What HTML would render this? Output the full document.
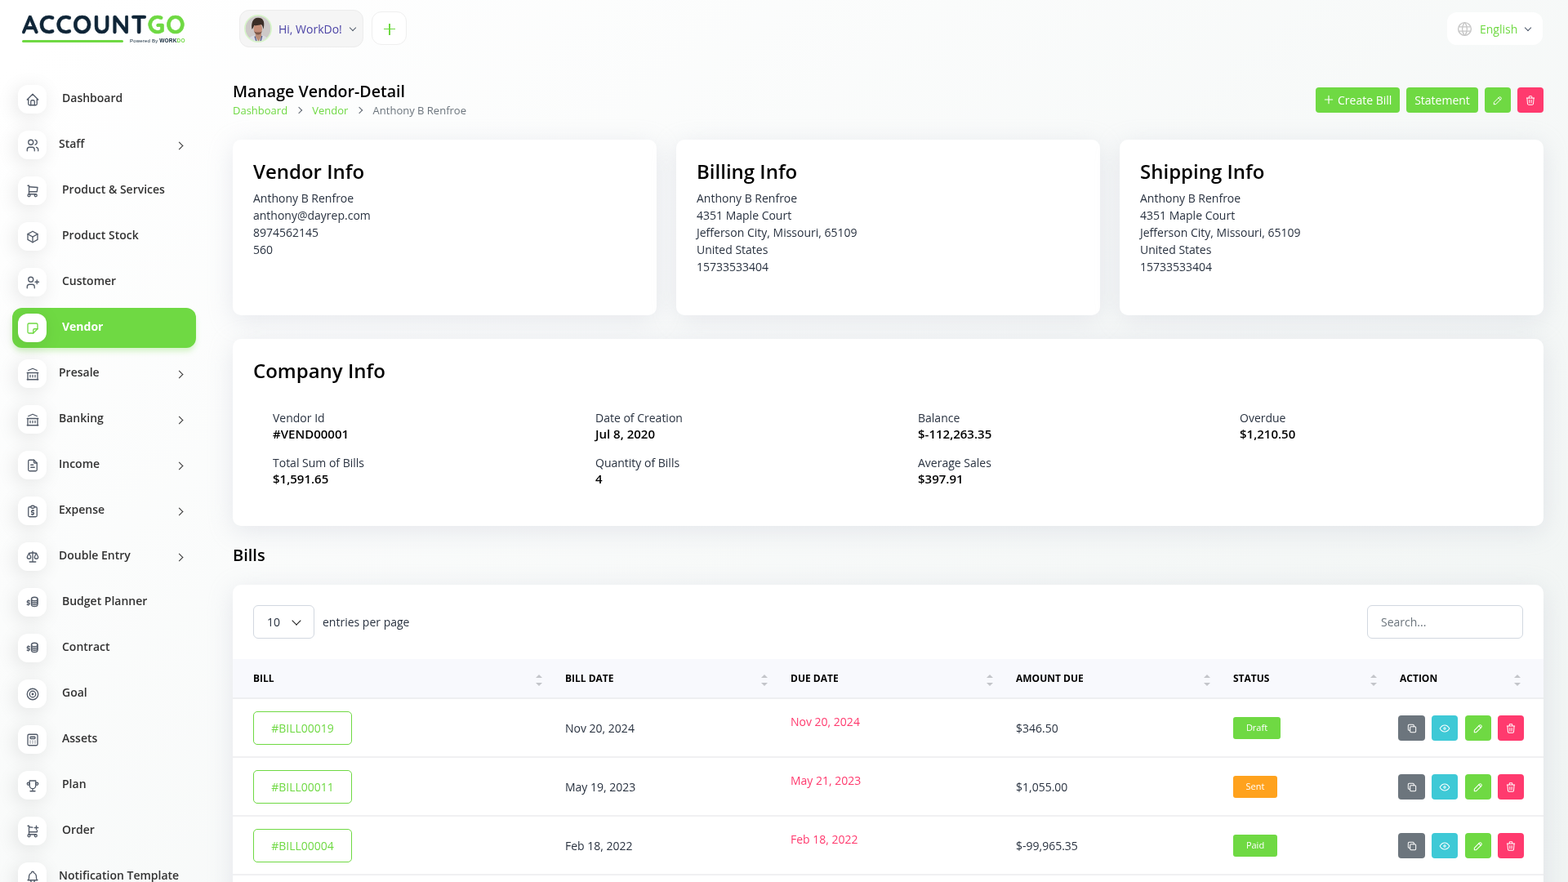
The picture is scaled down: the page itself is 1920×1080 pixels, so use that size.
<!DOCTYPE html>
<html lang="en">
<head>
<meta charset="utf-8">
<title>Manage Vendor-Detail</title>
<style>
*{box-sizing:border-box;margin:0;padding:0}
html,body{width:1920px;height:1080px;overflow:hidden}
body{font-family:"Open Sans","Liberation Sans",sans-serif;font-size:14px;color:#293240;
background:linear-gradient(141.55deg,rgba(240,244,243,0) 3.46%,#f0f4f3 99.86%),#fff;position:relative}
.abs{position:absolute}
/* sidebar */
.logo{left:27px;top:14px;width:200px;height:42px}
.logo .name{position:absolute;left:0;top:-1px;font-family:"Quicksand","Liberation Sans",sans-serif;font-weight:700;font-size:30.7px;letter-spacing:1.35px;color:#0f2537;line-height:34px;-webkit-text-stroke:.6px #0f2537;white-space:nowrap}
.logo .name b{color:#6fd943;font-weight:700;-webkit-text-stroke:.6px #6fd943}
.logo .bar{position:absolute;left:0;top:35px;width:124px;height:3px;border-radius:2px;background:#6fd943}
.logo .pw{position:absolute;left:132px;top:32px;font-size:6px;font-weight:400;color:#0f2537;letter-spacing:.2px;font-family:"Liberation Sans",sans-serif;white-space:nowrap;line-height:8px}
.logo .pw i{font-style:normal;font-weight:900;font-size:6.5px}.logo .pw b{color:#6fd943}
.nav{left:0;top:0}
.item{position:absolute;left:15px;width:225px;height:49px;border-radius:12px}
.item .ic{position:absolute;left:7px;top:7px;width:35px;height:35px;border-radius:12px;background:#fff;box-shadow:-3px 4px 23px rgba(0,0,0,.1);display:flex;align-items:center;justify-content:center}
.item .ic svg{width:18px;height:18px;stroke:#525b69;fill:none;stroke-width:1.75;stroke-linecap:round;stroke-linejoin:round}
.item .tx{position:absolute;left:61px;top:13px;font-size:14px;font-weight:600;color:#333;line-height:19px;white-space:nowrap}
.item.sub .tx{left:57px}
.item .ar{position:absolute;left:201.3px;top:22.3px;width:7px;height:7px;border-right:1.9px solid #333;border-top:1.9px solid #333;transform:rotate(45deg)}
.item.active{background:#6fd943;box-shadow:0 5px 7px -1px rgba(111,217,67,.3)}
.item.active .tx{color:#fff;font-weight:700}
.item.active .ic svg{stroke:#6fd943}
/* header */
.user{left:293px;top:12px;width:152px;height:46px;border-radius:12px;background:#f5f5f5;border:1px solid #ececec}
.user .av{position:absolute;left:5px;top:5px;width:34px;height:34px}
.user .nm{position:absolute;left:47px;top:13px;font-size:14px;color:#4c44a6;font-weight:400;line-height:19px}
.user .chev{position:absolute;left:135px;top:17.5px;width:6px;height:6px;border-right:1.4px solid #555f6d;border-bottom:1.4px solid #555f6d;transform:rotate(45deg)}
.plus{left:455px;top:14px;width:43px;height:41px;border-radius:12px;background:#fff;border:1px solid #efefef}
.plus:before,.plus:after{content:"";position:absolute;background:#6fd943}
.plus:before{left:14px;top:19.5px;width:14px;height:1.6px}
.plus:after{left:20.2px;top:13.5px;width:1.6px;height:14px}
.lang{left:1772px;top:15px;width:117px;height:40px;border-radius:12px;background:#fff}
.lang .gl{position:absolute;left:11px;top:10px;width:21px;height:21px}
.lang .t{position:absolute;left:40px;top:11px;font-size:14px;color:#6fd943;line-height:20px}
.lang .chev{position:absolute;left:96px;top:16px;width:6px;height:6px;border-right:1.4px solid #4a5568;border-bottom:1.4px solid #4a5568;transform:rotate(45deg)}
/* page header */
.ptitle{left:285px;top:98px;font-size:19.6px;font-weight:600;color:#000;line-height:27px;white-space:nowrap}
.bc{left:285px;top:126px;font-size:13px;line-height:18px;white-space:nowrap;color:#6c757d}
.bc a{color:#6fd943;text-decoration:none}
.bc .sep{display:inline-block;width:30.2px;height:10px;position:relative;vertical-align:baseline}.bc .sep:after{content:"";position:absolute;left:10.5px;top:1.5px;width:5px;height:5px;border-right:1.3px solid #5f6670;border-top:1.3px solid #5f6670;transform:rotate(45deg)}
.bi{position:absolute;left:9px;top:8.5px;width:14px;height:14px;fill:none;stroke:#fff;stroke-width:1.7;stroke-linecap:round;stroke-linejoin:round}.bp{position:absolute;left:8.4px;top:7.4px;width:16px;height:16px;fill:none;stroke:#fff;stroke-width:1.7;stroke-linecap:round}
.btn{position:absolute;top:107px;height:31px;border-radius:4px;background:#6fd943;color:#fff;font-size:14px;line-height:31px;text-align:center;white-space:nowrap}
/* cards */
.card{position:absolute;background:#fff;border-radius:10px;box-shadow:0 6px 30px rgba(182,186,203,.3)}
.card h3{position:absolute;left:25px;top:22px;font-size:24px;font-weight:600;color:#000;line-height:33px;white-space:nowrap}
.card .lines{position:absolute;left:25px;top:61px;font-size:14px;line-height:21px;color:#293240;white-space:nowrap}
.ci{position:absolute;font-size:14px;line-height:19px;white-space:nowrap}
.ci .l{color:#293240}
.ci .v{font-weight:600;color:#000;font-size:15px;line-height:20px;margin-top:0}
/* table */
.sel{position:absolute;left:25px;top:25px;width:75px;height:41px;border:1px solid #d2d8e0;border-radius:6px}
.sel .t{position:absolute;left:16px;top:10px;font-size:14px;line-height:19px}
.sel .chev{position:absolute;left:47.5px;top:13.5px;width:8px;height:8px;border-right:1.7px solid #1a1a1a;border-bottom:1.7px solid #1a1a1a;transform:rotate(45deg)}
.epp{position:absolute;left:110px;top:36px;font-size:14px;line-height:19px}
.search{position:absolute;left:1389px;top:25px;width:191px;height:41px;border:1px solid #d2d8e0;border-radius:6px}
.search .t{position:absolute;left:16px;top:10px;font-size:14px;line-height:19px;color:#6c757d}
.thead{position:absolute;left:0;top:91px;width:1605px;height:49px;background:#f8f9fd;border-bottom:2px solid #eeeff1}
.th{position:absolute;top:15px;font-size:12px;font-weight:700;color:#000;line-height:17px}
.sort{position:absolute;top:19px;width:8px;height:14px}
.sort:before,.sort:after{content:"";position:absolute;left:1px;border-left:4px solid transparent;border-right:4px solid transparent}
.sort:before{top:0;border-bottom:4.2px solid #c3c5ca}
.sort:after{top:10px;border-top:4.2px solid #c3c5ca}
.row{position:absolute;left:0;width:1605px;height:72px;border-bottom:2px solid #f0f0f2}
.billbtn{position:absolute;left:25px;top:15px;width:121px;height:41px;border:1px solid #6fd943;border-radius:5px;color:#6fd943;font-size:14px;line-height:39px;text-align:center}
.td{position:absolute;font-size:14px;line-height:19px;white-space:nowrap;color:#293240}
.due{color:#ff3a6e}
.badge{position:absolute;left:1225px;top:22px;height:27px;border-radius:3px;color:#fff;font-size:11px;line-height:26px;text-align:center;font-weight:500}
.ab{position:absolute;top:20px;width:32px;height:31px;border-radius:4px;display:flex;align-items:center;justify-content:center}
.ab svg{width:14px;height:14px;stroke:#fff;fill:none;stroke-width:1.75;stroke-linecap:round;stroke-linejoin:round}
</style>
</head>
<body>
<!-- logo -->
<div class="abs logo"><div class="name">ACCOUNT<b>GO</b></div><div class="bar"></div><div class="pw">Powered By <i>WORK<b>DO</b></i></div></div>

<!-- sidebar nav -->
<div class="abs nav">
  <div class="item" style="top:97px"><div class="ic"><svg viewBox="0 0 24 24"><path d="M5 12H3l9-9 9 9h-2"/><path d="M5 12v7a2 2 0 0 0 2 2h10a2 2 0 0 0 2-2v-7"/><path d="M9 21v-6a2 2 0 0 1 2-2h2a2 2 0 0 1 2 2v6"/></svg></div><div class="tx">Dashboard</div></div>
  <div class="item sub" style="top:153px"><div class="ic"><svg viewBox="0 0 24 24"><circle cx="9" cy="7" r="4"/><path d="M3 21v-2a4 4 0 0 1 4-4h4a4 4 0 0 1 4 4v2"/><path d="M16 3.13a4 4 0 0 1 0 7.75"/><path d="M21 21v-2a4 4 0 0 0-3-3.85"/></svg></div><div class="tx">Staff</div><div class="ar"></div></div>
  <div class="item" style="top:209px"><div class="ic"><svg viewBox="0 0 24 24"><circle cx="6" cy="19" r="2"/><circle cx="17" cy="19" r="2"/><path d="M17 17H6V3H4"/><path d="M6 5l14 1-1 7H6"/></svg></div><div class="tx">Product &amp; Services</div></div>
  <div class="item" style="top:265px"><div class="ic"><svg viewBox="0 0 24 24"><path d="M12 3l8 4.5v9L12 21l-8-4.5v-9L12 3"/><path d="M12 12l8-4.5"/><path d="M12 12v9"/><path d="M12 12L4 7.5"/></svg></div><div class="tx">Product Stock</div></div>
  <div class="item" style="top:321px"><div class="ic"><svg viewBox="0 0 24 24"><circle cx="9" cy="7" r="4"/><path d="M3 21v-2a4 4 0 0 1 4-4h4a4 4 0 0 1 4 4v2"/><path d="M16 11h6m-3-3v6"/></svg></div><div class="tx">Customer</div></div>
  <div class="item active" style="top:377px"><div class="ic"><svg viewBox="0 0 24 24"><path d="M13 20H6a2 2 0 0 1-2-2V6a2 2 0 0 1 2-2h12a2 2 0 0 1 2 2v7l-7 7"/><path d="M13 20v-5a2 2 0 0 1 2-2h5"/></svg></div><div class="tx">Vendor</div></div>
  <div class="item sub" style="top:433px"><div class="ic"><svg viewBox="0 0 24 24"><path d="M3 21h18"/><path d="M3 10h18"/><path d="M5 6l7-3 7 3"/><path d="M4 10v11m16-11v11M8 14v3m4-3v3m4-3v3"/></svg></div><div class="tx">Presale</div><div class="ar"></div></div>
  <div class="item sub" style="top:489px"><div class="ic"><svg viewBox="0 0 24 24"><path d="M3 21h18"/><path d="M3 10h18"/><path d="M5 6l7-3 7 3"/><path d="M4 10v11m16-11v11M8 14v3m4-3v3m4-3v3"/></svg></div><div class="tx">Banking</div><div class="ar"></div></div>
  <div class="item sub" style="top:545px"><div class="ic"><svg viewBox="0 0 24 24"><path d="M14 3v4a1 1 0 0 0 1 1h4"/><path d="M17 21H7a2 2 0 0 1-2-2V5a2 2 0 0 1 2-2h7l5 5v11a2 2 0 0 1-2 2z"/><path d="M9 11h4m-4 4h6"/></svg></div><div class="tx">Income</div><div class="ar"></div></div>
  <div class="item sub" style="top:601px"><div class="ic"><svg viewBox="0 0 24 24"><path d="M9 5H7a2 2 0 0 0-2 2v12a2 2 0 0 0 2 2h10a2 2 0 0 0 2-2V7a2 2 0 0 0-2-2h-2"/><rect x="9" y="3" width="6" height="4" rx="2"/><path d="M14 11h-2.5a1.5 1.5 0 0 0 0 3h1a1.5 1.5 0 0 1 0 3H10m2 0v1m0-8v1"/></svg></div><div class="tx">Expense</div><div class="ar"></div></div>
  <div class="item sub" style="top:657px"><div class="ic"><svg viewBox="0 0 24 24"><path d="M7 20h10M6 6l6-1 6 1M12 3v17"/><path d="M9 12l-3-6-3 6a3 3 0 0 0 6 0"/><path d="M21 12l-3-6-3 6a3 3 0 0 0 6 0"/></svg></div><div class="tx">Double Entry</div><div class="ar"></div></div>
  <div class="item" style="top:713px"><div class="ic"><svg viewBox="0 0 24 24"><ellipse cx="15" cy="6" rx="5" ry="3"/><path d="M10 6v3c0 1.66 2.24 3 5 3s5-1.34 5-3V6"/><path d="M10 9v3c0 1.66 2.24 3 5 3s5-1.34 5-3V9"/><path d="M10 12v3c0 1.66 2.24 3 5 3s5-1.34 5-3v-3"/><path d="M7 9H4.5a1.5 1.5 0 0 0 0 3h1a1.5 1.5 0 0 1 0 3H3m2 0v1m0-8v1"/></svg></div><div class="tx">Budget Planner</div></div>
  <div class="item" style="top:769px"><div class="ic"><svg viewBox="0 0 24 24"><ellipse cx="15" cy="6" rx="5" ry="3"/><path d="M10 6v3c0 1.66 2.24 3 5 3s5-1.34 5-3V6"/><path d="M10 9v3c0 1.66 2.24 3 5 3s5-1.34 5-3V9"/><path d="M10 12v3c0 1.66 2.24 3 5 3s5-1.34 5-3v-3"/><path d="M7 9H4.5a1.5 1.5 0 0 0 0 3h1a1.5 1.5 0 0 1 0 3H3m2 0v1m0-8v1"/></svg></div><div class="tx">Contract</div></div>
  <div class="item" style="top:825px"><div class="ic"><svg viewBox="0 0 24 24"><circle cx="12" cy="12" r="1"/><circle cx="12" cy="12" r="5"/><circle cx="12" cy="12" r="9"/></svg></div><div class="tx">Goal</div></div>
  <div class="item" style="top:881px"><div class="ic"><svg viewBox="0 0 24 24"><rect x="4" y="3" width="16" height="18" rx="2"/><rect x="8" y="7" width="8" height="3" rx="1"/><path d="M8 14v.01M12 14v.01M16 14v.01M8 17v.01M12 17v.01M16 17v.01"/></svg></div><div class="tx">Assets</div></div>
  <div class="item" style="top:937px"><div class="ic"><svg viewBox="0 0 24 24"><path d="M8 21h8M12 17v4M7 4h10M17 4v8a5 5 0 0 1-10 0V4"/><circle cx="5" cy="9" r="2"/><circle cx="19" cy="9" r="2"/></svg></div><div class="tx">Plan</div></div>
  <div class="item" style="top:993px"><div class="ic"><svg viewBox="0 0 24 24"><circle cx="6" cy="19" r="2"/><circle cx="17" cy="19" r="2"/><path d="M17 17H6V3H4"/><path d="M6 5l6 .43M19.5 10.5L19 13H6"/><path d="M15 6h6m-3-3v6"/></svg></div><div class="tx">Order</div></div>
  <div class="item sub" style="top:1049px"><div class="ic"><svg viewBox="0 0 24 24"><path d="M10 5a2 2 0 0 1 4 0a7 7 0 0 1 4 6v3a4 4 0 0 0 2 3H4a4 4 0 0 0 2-3v-3a7 7 0 0 1 4-6"/><path d="M9 17v1a3 3 0 0 0 6 0v-1"/></svg></div><div class="tx">Notification Template</div></div>
</div>

<!-- header -->
<div class="abs user"><svg class="av" viewBox="0 0 34 34"><defs><clipPath id="cc"><circle cx="17" cy="17" r="15.8"/></clipPath></defs><g clip-path="url(#cc)"><rect width="34" height="34" fill="#cdc9c8"/><path d="M4 34c1-5 4-8 9.5-9l3.5 1.5 4-1.5c5 1 9 4 10.5 9z" fill="#dadbe2"/><path d="M13.8 21h7l.4 6-3.7 6-3.7-6z" fill="#b98d78"/><path d="M13 26.5l2 6M21.8 26l-1.8 6.5" stroke="#55608c" stroke-width="1.3"/><ellipse cx="16.8" cy="17" rx="5.3" ry="6.8" fill="#c48e78"/><path d="M12 20c1 3 3 4.5 5 4.5s4-1.5 5-4.5c-1 1-2.5 1.5-5 1.5s-4-.5-5-1.5z" fill="#7a5646"/><path d="M9.5 18C8.4 11 10 3.8 17 3.8c6.2 0 8.2 4.6 7 11.4l-.6 2.6c-.6-3.4-1.4-5.2-2.6-5.8-3 .6-5.6 1.8-8.6.9-.5 1.7-1.2 3.4-2.7 5.1z" fill="#3a2d26"/></g><circle cx="17" cy="17" r="16.2" fill="none" stroke="#d6f5c8" stroke-width="1.6"/></svg><div class="nm">Hi, WorkDo!</div><div class="chev"></div></div>
<div class="abs plus"></div>
<div class="abs lang"><svg class="gl" viewBox="0 0 24 24" fill="none" stroke="#c6c6c6" stroke-width="1.6"><circle cx="12" cy="12" r="9"/><path d="M3.6 9h16.8M3.6 15h16.8"/><path d="M11.5 3a17 17 0 0 0 0 18M12.5 3a17 17 0 0 1 0 18"/></svg><div class="t">English</div><div class="chev"></div></div>

<!-- page title -->
<div class="abs ptitle">Manage Vendor-Detail</div>
<div class="abs bc"><a>Dashboard</a><span class="sep"></span><a>Vendor</a><span class="sep"></span>Anthony B Renfroe</div>
<div class="btn" style="left:1611px;width:103px;text-align:left;padding-left:27px"><svg class="bp" viewBox="0 0 24 24"><path d="M12 5v14M5 12h14"/></svg>Create Bill</div>
<div class="btn" style="left:1722px;width:88px">Statement</div>
<div class="btn" style="left:1818px;width:32px"><svg class="bi" viewBox="0 0 24 24"><path d="M4 20h4L18.5 9.5a2.83 2.83 0 0 0-4-4L4 16v4"/><path d="M13.5 6.5l4 4"/></svg></div>
<div class="btn" style="left:1858px;width:32px;background:#ff3a6e"><svg class="bi" viewBox="0 0 24 24"><path d="M4 7h16M10 11v6M14 11v6M5 7l1 12a2 2 0 0 0 2 2h8a2 2 0 0 0 2-2l1-12M9 7V4a1 1 0 0 1 1-1h4a1 1 0 0 1 1 1v3"/></svg></div>

<!-- info cards -->
<div class="card" style="left:285px;top:171px;width:519px;height:215px"><h3>Vendor Info</h3><div class="lines">Anthony B Renfroe<br>anthony@dayrep.com<br>8974562145<br>560</div></div>
<div class="card" style="left:828px;top:171px;width:519px;height:215px"><h3>Billing Info</h3><div class="lines">Anthony B Renfroe<br>4351 Maple Court<br>Jefferson City, Missouri, 65109<br>United States<br>15733533404</div></div>
<div class="card" style="left:1371px;top:171px;width:519px;height:215px"><h3>Shipping Info</h3><div class="lines">Anthony B Renfroe<br>4351 Maple Court<br>Jefferson City, Missouri, 65109<br>United States<br>15733533404</div></div>

<!-- company info -->
<div class="card" style="left:285px;top:415px;width:1605px;height:229px">
  <h3>Company Info</h3>
  <div class="ci" style="left:49px;top:87px"><div class="l">Vendor Id</div><div class="v">#VEND00001</div></div>
  <div class="ci" style="left:444px;top:87px"><div class="l">Date of Creation</div><div class="v">Jul 8, 2020</div></div>
  <div class="ci" style="left:839px;top:87px"><div class="l">Balance</div><div class="v">$-112,263.35</div></div>
  <div class="ci" style="left:1233px;top:87px"><div class="l">Overdue</div><div class="v">$1,210.50</div></div>
  <div class="ci" style="left:49px;top:142px"><div class="l">Total Sum of Bills</div><div class="v">$1,591.65</div></div>
  <div class="ci" style="left:444px;top:142px"><div class="l">Quantity of Bills</div><div class="v">4</div></div>
  <div class="ci" style="left:839px;top:142px"><div class="l">Average Sales</div><div class="v">$397.91</div></div>
</div>

<div class="abs" style="left:285px;top:666px;font-size:20px;font-weight:600;color:#000;line-height:27px">Bills</div>

<!-- table card -->
<div class="card" style="left:285px;top:716px;width:1605px;height:420px;border-radius:10px">
  <div class="sel"><div class="t">10</div><div class="chev"></div></div>
  <div class="epp">entries per page</div>
  <div class="search"><div class="t">Search...</div></div>
  <div class="thead">
    <div class="th" style="left:25px">BILL</div><div class="sort" style="left:370px"></div>
    <div class="th" style="left:407px">BILL DATE</div><div class="sort" style="left:646px"></div>
    <div class="th" style="left:683px">DUE DATE</div><div class="sort" style="left:922px"></div>
    <div class="th" style="left:959px">AMOUNT DUE</div><div class="sort" style="left:1188px"></div>
    <div class="th" style="left:1225px">STATUS</div><div class="sort" style="left:1392px"></div>
    <div class="th" style="left:1429px">ACTION</div><div class="sort" style="left:1568px"></div>
  </div>
  <div class="row" style="top:140px">
    <div class="billbtn">#BILL00019</div>
    <div class="td" style="left:407px;top:26px">Nov 20, 2024</div>
    <div class="td due" style="left:683px;top:18px">Nov 20, 2024</div>
    <div class="td" style="left:959px;top:26px">$346.50</div>
    <div class="badge" style="width:58px;background:#6fd943">Draft</div>
    <div class="ab" style="left:1427px;width:33px;background:#6c757d"><svg viewBox="0 0 24 24"><rect x="8" y="8" width="12" height="12" rx="2"/><path d="M16 8V6a2 2 0 0 0-2-2H6a2 2 0 0 0-2 2v8a2 2 0 0 0 2 2h2"/></svg></div>
    <div class="ab" style="left:1468px;background:#3ec9d6"><svg viewBox="0 0 24 24"><circle cx="12" cy="12" r="2"/><path d="M22 12c-2.67 4.67-6 7-10 7s-7.33-2.33-10-7c2.67-4.67 6-7 10-7s7.33 2.33 10 7"/></svg></div>
    <div class="ab" style="left:1509px;background:#6fd943"><svg viewBox="0 0 24 24"><path d="M4 20h4L18.5 9.5a2.83 2.83 0 0 0-4-4L4 16v4"/><path d="M13.5 6.5l4 4"/></svg></div>
    <div class="ab" style="left:1549px;background:#ff3a6e"><svg viewBox="0 0 24 24"><path d="M4 7h16M10 11v6M14 11v6M5 7l1 12a2 2 0 0 0 2 2h8a2 2 0 0 0 2-2l1-12M9 7V4a1 1 0 0 1 1-1h4a1 1 0 0 1 1 1v3"/></svg></div>
  </div>
  <div class="row" style="top:212px">
    <div class="billbtn">#BILL00011</div>
    <div class="td" style="left:407px;top:26px">May 19, 2023</div>
    <div class="td due" style="left:683px;top:18px">May 21, 2023</div>
    <div class="td" style="left:959px;top:26px">$1,055.00</div>
    <div class="badge" style="width:54px;background:#ffa21d">Sent</div>
    <div class="ab" style="left:1427px;width:33px;background:#6c757d"><svg viewBox="0 0 24 24"><rect x="8" y="8" width="12" height="12" rx="2"/><path d="M16 8V6a2 2 0 0 0-2-2H6a2 2 0 0 0-2 2v8a2 2 0 0 0 2 2h2"/></svg></div>
    <div class="ab" style="left:1468px;background:#3ec9d6"><svg viewBox="0 0 24 24"><circle cx="12" cy="12" r="2"/><path d="M22 12c-2.670 4.67-6 7-10 7s-7.33-2.33-10-7c2.67-4.67 6-7 10-7s7.33 2.33 10 7"/></svg></div>
    <div class="ab" style="left:1509px;background:#6fd943"><svg viewBox="0 0 24 24"><path d="M4 20h4L18.5 9.5a2.83 2.83 0 0 0-4-4L4 16v4"/><path d="M13.5 6.5l4 4"/></svg></div>
    <div class="ab" style="left:1549px;background:#ff3a6e"><svg viewBox="0 0 24 24"><path d="M4 7h16M10 11v6M14 11v6M5 7l1 12a2 2 0 0 0 2 2h8a2 2 0 0 0 2-2l1-12M9 7V4a1 1 0 0 1 1-1h4a1 1 0 0 1 1 1v3"/></svg></div>
  </div>
  <div class="row" style="top:284px">
    <div class="billbtn">#BILL00004</div>
    <div class="td" style="left:407px;top:26px">Feb 18, 2022</div>
    <div class="td due" style="left:683px;top:18px">Feb 18, 2022</div>
    <div class="td" style="left:959px;top:26px">$-99,965.35</div>
    <div class="badge" style="width:54px;background:#6fd943">Paid</div>
    <div class="ab" style="left:1427px;width:33px;background:#6c757d"><svg viewBox="0 0 24 24"><rect x="8" y="8" width="12" height="12" rx="2"/><path d="M16 8V6a2 2 0 0 0-2-2H6a2 2 0 0 0-2 2v8a2 2 0 0 0 2 2h2"/></svg></div>
    <div class="ab" style="left:1468px;background:#3ec9d6"><svg viewBox="0 0 24 24"><circle cx="12" cy="12" r="2"/><path d="M22 12c-2.67 4.67-6 7-10 7s-7.33-2.33-10-7c2.67-4.67 6-7 10-7s7.33 2.33 10 7"/></svg></div>
    <div class="ab" style="left:1509px;background:#6fd943"><svg viewBox="0 0 24 24"><path d="M4 20h4L18.5 9.5a2.83 2.83 0 0 0-4-4L4 16v4"/><path d="M13.5 6.5l4 4"/></svg></div>
    <div class="ab" style="left:1549px;background:#ff3a6e"><svg viewBox="0 0 24 24"><path d="M4 7h16M10 11v6M14 11v6M5 7l1 12a2 2 0 0 0 2 2h8a2 2 0 0 0 2-2l1-12M9 7V4a1 1 0 0 1 1-1h4a1 1 0 0 1 1 1v3"/></svg></div>
  </div>
</div>
</body>
</html>
